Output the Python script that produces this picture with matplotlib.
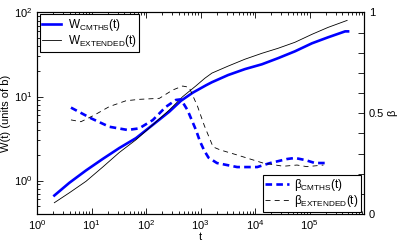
import matplotlib
matplotlib.use("Agg")
import matplotlib.pyplot as plt

plt.rcParams['font.family'] = ['Liberation Sans', 'DejaVu Sans']
plt.rcParams['font.size'] = 8
plt.rcParams['mathtext.default'] = 'regular'

# Width data W(t)
t_Wc = [2.08, 3.92, 7.93, 16.1, 32.4, 65.6, 133, 268, 439, 719, 1260, 1620, 3200,
        6530, 1.34e4, 2.65e4, 5.4e4, 1.11e5, 2.18e5, 4.5e5, 5.1e5]
W_cmths = [0.664, 0.94, 1.32, 1.81, 2.44, 3.20, 4.60, 6.61, 8.91, 11.1, 13.6, 14.8, 18.0,
           21.2, 24.2, 28.6, 34.5, 43.0, 50.6, 59.6, 59.6]
t_We = [2.08, 3.92, 7.93, 16.1, 32.4, 65.6, 133, 268, 470, 825, 1200, 1620, 3200,
        6530, 1.34e4, 2.65e4, 5.4e4, 1.11e5, 2.18e5, 4.9e5]
W_ext = [0.545, 0.715, 0.98, 1.45, 2.16, 3.06, 4.60, 6.92, 9.95, 13.4, 16.5, 19.0, 23.0,
         27.8, 32.7, 37.5, 44.2, 55.0, 66.4, 80.5]

# beta data
t_bc = [4.2, 9.8, 21.2, 46, 75, 133, 232, 354, 437, 577, 825, 980, 1170, 1400, 2000,
        4700, 1.1e4, 1.9e4, 3.9e4, 5.4e4, 8.3e4, 1.26e5, 2.1e5]
beta_cmths = [0.528, 0.475, 0.433, 0.417, 0.425, 0.466, 0.532, 0.566, 0.569, 0.516,
              0.417, 0.36, 0.315, 0.28, 0.253, 0.233, 0.233, 0.253, 0.273, 0.278,
              0.268, 0.253, 0.253]
t_be = [4.2, 6.4, 11.3, 21.2, 42.9, 75, 176, 307, 470, 618, 886, 1170, 1700, 2300,
        4700, 1.4e4, 3.3e4, 5.9e4, 9.0e4, 1.8e5]
beta_ext = [0.467, 0.458, 0.491, 0.533, 0.562, 0.569, 0.574, 0.615, 0.635, 0.629,
            0.533, 0.44, 0.333, 0.318, 0.293, 0.253, 0.237, 0.243, 0.235, 0.243]

fig = plt.figure(figsize=(4.0, 2.45), dpi=100)
ax = fig.add_axes([0.0925, 0.1265, 0.8175, 0.8225])
ax2 = ax.twinx()

l1, = ax.plot(t_Wc, W_cmths, color='#0000ff', lw=1.9, label=r'$W_{CMTHS}(t)$')
l2, = ax.plot(t_We, W_ext, color='black', lw=0.6, label=r'$W_{EXTENDED}(t)$')
ax.set_xscale('log')
ax.set_yscale('log')
ax.set_xlim(1, 1e6)
ax.set_ylim(0.4, 100)
ax.set_xlabel('t', labelpad=0)
ax.set_ylabel('W(t) (units of b)', labelpad=2)
ax.set_xticks([1, 10, 100, 1e3, 1e4, 1e5])
ax.set_xticklabels([r'$10^{0}$', r'$10^{1}$', r'$10^{2}$', r'$10^{3}$', r'$10^{4}$', r'$10^{5}$'])
ax.set_yticks([1, 10, 100])
ax.set_yticklabels([r'$10^{0}$', r'$10^{1}$', r'$10^{2}$'])
ax.tick_params(which='both', direction='in', top=True, right=False, width=0.6)
ax.tick_params(which='major', length=4)
ax.tick_params(which='minor', length=2)
ax.tick_params(axis='x', pad=3)

b1, = ax2.plot(t_bc, beta_cmths, color='#0000ff', lw=1.9, dashes=(2.5, 1.6), label=r'$β_{CMTHS}(t)$')
b2, = ax2.plot(t_be, beta_ext, color='black', lw=0.6, dashes=(6, 5), label=r'$β_{EXTENDED}(t)$')
ax2.set_ylim(0, 1)
ax2.set_yticks([0, 0.1, 0.2, 0.3, 0.4, 0.5, 0.6, 0.7, 0.8, 0.9, 1.0])
ax2.set_yticklabels(['0', '', '', '', '', '0.5', '', '', '', '', '1'])
ax2.tick_params(which='both', direction='in', length=4, width=0.6)
ax2.set_ylabel('β', labelpad=2)

for a in (ax, ax2):
    for s in a.spines.values():
        s.set_linewidth(0.8)

leg1 = ax.legend(handles=[l1, l2], loc='upper left', bbox_to_anchor=(0.005, 0.997),
                 fancybox=False, edgecolor='black', framealpha=1, handlelength=1.6,
                 borderpad=0.2, labelspacing=0.05, handletextpad=0.6, borderaxespad=0.1,
                 fontsize=8.5)
leg1.get_frame().set_linewidth(0.8)
leg2 = ax2.legend(handles=[b1, b2], loc='lower right', bbox_to_anchor=(0.995, 0.005),
                  fancybox=False, edgecolor='black', framealpha=1, handlelength=2.0,
                  borderpad=0.2, labelspacing=0.05, handletextpad=0.5, borderaxespad=0.1,
                  fontsize=8.5)
leg2.get_frame().set_linewidth(0.8)

fig.savefig('out.png', dpi=100)
